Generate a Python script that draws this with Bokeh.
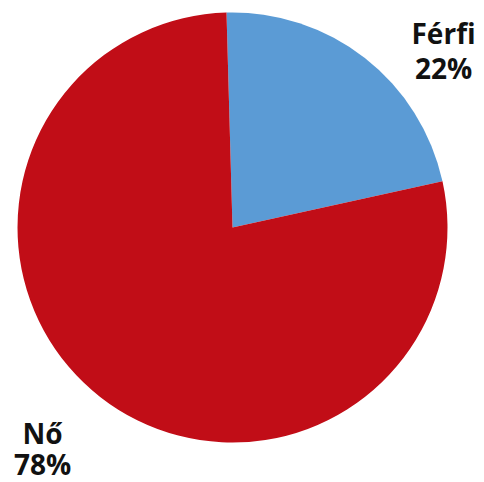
import math
from bokeh.plotting import figure
from bokeh.models import ColumnDataSource, Range1d
from bokeh.core.properties import value
from bokeh.embed import file_html
from bokeh.resources import INLINE

labels = ["Férfi", "Nő"]
shares = [22, 78]
colors = ["#5B9BD5", "#C10D17"]

W, H = 484, 482
cx, cy, r = 232, 255, 215
offset = math.radians(91.6)

starts, ends = [], []
cum = 0.0
for s in shares:
    a = 2 * math.pi * cum / 100.0
    b = 2 * math.pi * (cum + s) / 100.0
    starts.append(offset - b)
    ends.append(offset - a)
    cum += s

src = ColumnDataSource(dict(start=starts, end=ends, color=colors))

p = figure(width=W, height=H, output_backend="svg", toolbar_location=None,
           x_range=Range1d(0, W), y_range=Range1d(0, H), min_border=0)
p.axis.visible = False
p.grid.visible = False
p.outline_line_color = None
p.background_fill_color = "white"

p.wedge(x=cx, y=cy, radius=r, start_angle="start", end_angle="end",
        fill_color="color", line_color=None, source=src)

# label positions: (x, name y, percent y)
label_pos = [(443, 450, 415), (42, 50, 19)]
names_x = [lp[0] for lp in label_pos]
names_y = [lp[1] for lp in label_pos]
pct_y = [lp[2] for lp in label_pos]
txt_src = ColumnDataSource(dict(x=names_x, y1=names_y, y2=pct_y,
                                name=labels, pct=[f"{s}%" for s in shares]))
for col, ycol in (("name", "y1"), ("pct", "y2")):
    p.text(x="x", y=ycol, text=col, source=txt_src, text_align="center",
           text_baseline="middle", text_font=value("Open Sans"),
           text_font_style="bold", text_font_size="28px", text_color="#111111")

open("out.html", "w").write(file_html(p, INLINE))
